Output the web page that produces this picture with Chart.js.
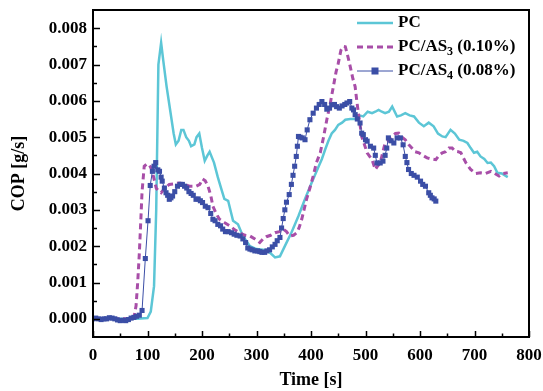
<!DOCTYPE html>
<html>
<head>
<meta charset="utf-8">
<script src="https://cdn.jsdelivr.net/npm/chart.js@4.4.1/dist/chart.umd.min.js"></script>
<style>
  html, body { margin: 0; padding: 0; background: #fff; }
  #wrap { width: 543px; height: 391px; position: relative; }
</style>
</head>
<body>
<div id="wrap"><canvas id="c" width="543" height="391"></canvas></div>
<script>
// ---------- data ----------
const xTickValues = [0, 100, 200, 300, 400, 500, 600, 700, 800];
const yTickValues = [0, 0.001, 0.002, 0.003, 0.004, 0.005, 0.006, 0.007, 0.008];

const seriesNames = ['PC', 'PC/AS', 'PC/AS'];
const seriesSubs = ['', '3', '4'];
const seriesSuffix = ['', ' (0.10%)', ' (0.08%)'];

const pcTime = [0, 20, 40, 60, 80, 100, 106, 112, 116, 120, 125, 129, 135, 142, 148, 152, 157, 162, 166, 171, 176, 180, 186, 190, 195, 200, 205, 210, 214, 222, 229, 235, 241, 248, 257, 266, 275, 288, 300, 312, 324, 334, 343, 352, 364, 377, 389, 401, 413, 420, 426, 432, 438, 444, 450, 457, 463, 472, 481, 488, 496, 504, 512, 518, 524, 530, 536, 543, 549, 558, 565, 573, 581, 589, 598, 607, 616, 625, 633, 641, 647, 656, 664, 672, 680, 687, 693, 699, 705, 711, 718, 724, 730, 736, 742, 750, 761];
const pcCOP = [0, 0, 0, 0, 0, 0.00002, 0.0002, 0.0009, 0.003, 0.007, 0.0076, 0.0071, 0.0064, 0.0057, 0.0051, 0.0048, 0.0049, 0.0052, 0.0052, 0.005, 0.0049, 0.00475, 0.0048, 0.005, 0.0051, 0.0047, 0.00435, 0.0045, 0.0046, 0.0043, 0.0039, 0.0036, 0.0033, 0.00325, 0.0027, 0.0026, 0.00228, 0.002, 0.00192, 0.0019, 0.00183, 0.00169, 0.00172, 0.002, 0.00237, 0.00283, 0.0033, 0.00374, 0.00416, 0.0044, 0.00466, 0.0049, 0.0051, 0.0052, 0.00534, 0.0054, 0.00548, 0.0055, 0.0055, 0.0056, 0.00557, 0.0057, 0.00566, 0.0057, 0.00575, 0.0057, 0.00566, 0.0057, 0.00584, 0.00557, 0.0056, 0.00566, 0.0056, 0.00557, 0.0054, 0.0053, 0.0054, 0.0053, 0.0051, 0.00502, 0.005, 0.0052, 0.0051, 0.00493, 0.0049, 0.00484, 0.0047, 0.00457, 0.0046, 0.00447, 0.0044, 0.00429, 0.0043, 0.0042, 0.00402, 0.004, 0.0039];

const as3Time = [0, 20, 40, 60, 75, 79, 82, 85, 88, 90, 94, 98, 103, 108, 112, 116, 120, 125, 132, 140, 150, 159, 168, 177, 189, 196, 201, 206, 211, 216, 220, 226, 232, 241, 251, 260, 269, 279, 288, 297, 306, 312, 318, 326, 334, 342, 349, 355, 361, 368, 374, 378, 383, 392, 398, 404, 410, 417, 423, 429, 435, 441, 446, 450, 455, 459, 463, 468, 472, 477, 481, 484, 487, 493, 498, 503, 512, 518, 522, 527, 532, 536, 542, 549, 555, 561, 567, 573, 579, 585, 591, 598, 605, 613, 621, 629, 635, 641, 647, 653, 659, 665, 670, 675, 684, 693, 702, 711, 720, 730, 737, 745, 752, 761];
const as3COP = [0, 0, 0, 0, 0.00002, 0.00036, 0.001, 0.0018, 0.0028, 0.0035, 0.0042, 0.00425, 0.00425, 0.0041, 0.00385, 0.0036, 0.00352, 0.00347, 0.0036, 0.0037, 0.00372, 0.00374, 0.0037, 0.00365, 0.00365, 0.0037, 0.00385, 0.0038, 0.00365, 0.0034, 0.0031, 0.0029, 0.00274, 0.00265, 0.00256, 0.00245, 0.00237, 0.0023, 0.00228, 0.0022, 0.0021, 0.0022, 0.00226, 0.0023, 0.00237, 0.0024, 0.00247, 0.0024, 0.00228, 0.0023, 0.00237, 0.0025, 0.00274, 0.0033, 0.0036, 0.00393, 0.0043, 0.00457, 0.005, 0.00548, 0.0059, 0.00639, 0.0068, 0.00703, 0.0074, 0.0075, 0.00749, 0.0072, 0.00694, 0.0066, 0.00639, 0.006, 0.00566, 0.00502, 0.0048, 0.00457, 0.00438, 0.00411, 0.0042, 0.00429, 0.0046, 0.00484, 0.0049, 0.00502, 0.0051, 0.00511, 0.005, 0.00493, 0.0048, 0.0047, 0.0046, 0.00457, 0.0045, 0.00443, 0.0044, 0.00438, 0.0045, 0.00457, 0.0046, 0.0047, 0.0047, 0.00461, 0.0046, 0.00457, 0.0043, 0.00411, 0.004, 0.00402, 0.004, 0.00406, 0.004, 0.00393, 0.004, 0.00402];

const as4Time = [0, 5, 10, 15, 20, 25, 30, 35, 40, 45, 50, 55, 60, 65, 70, 75, 80, 85, 90, 96, 101, 105, 109, 112, 115, 119, 122, 125, 127, 131, 134, 137, 140, 143, 146, 150, 155, 160, 164, 168, 172, 176, 180, 184, 189, 193, 197, 201, 206, 211, 216, 220, 224, 229, 234, 238, 243, 248, 254, 259, 264, 270, 275, 280, 284, 288, 292, 297, 302, 306, 310, 315, 319, 324, 329, 334, 338, 343, 346, 349, 352, 355, 360, 364, 367, 370, 373, 375, 377, 380, 384, 389, 393, 398, 404, 410, 415, 420, 425, 429, 434, 438, 443, 447, 452, 457, 462, 466, 471, 475, 478, 481, 485, 490, 493, 496, 500, 503, 509, 515, 518, 521, 527, 532, 536, 539, 542, 547, 552, 558, 564, 569, 573, 576, 579, 584, 589, 595, 601, 605, 610, 616, 619, 622, 626, 629];
const as4COP = [0, 0.00002, 0, -0.00002, 0, 0, 0.00003, 0.00002, 0, -0.00003, -0.00005, -0.00004, -0.00005, -0.00002, 0.00002, 0.00004, 0.00007, 0.0001, 0.00023, 0.00166, 0.0027, 0.00367, 0.00406, 0.0042, 0.0043, 0.0041, 0.00406, 0.0039, 0.00379, 0.0036, 0.00347, 0.0034, 0.00329, 0.00333, 0.00338, 0.0035, 0.00365, 0.0037, 0.0037, 0.00365, 0.0036, 0.0035, 0.00345, 0.0034, 0.00329, 0.0033, 0.00325, 0.0032, 0.0031, 0.00306, 0.0029, 0.00274, 0.0027, 0.0026, 0.00256, 0.00247, 0.0024, 0.0024, 0.00237, 0.00233, 0.0023, 0.00228, 0.0022, 0.0021, 0.00195, 0.00192, 0.0019, 0.00187, 0.00187, 0.00185, 0.00183, 0.00183, 0.00187, 0.0019, 0.00198, 0.00205, 0.00215, 0.00224, 0.0025, 0.00276, 0.003, 0.00321, 0.00342, 0.0037, 0.00395, 0.0042, 0.00447, 0.00475, 0.00502, 0.005, 0.00498, 0.00493, 0.0052, 0.00548, 0.00566, 0.0058, 0.0059, 0.00598, 0.0059, 0.00577, 0.0058, 0.00589, 0.0059, 0.00584, 0.0058, 0.00586, 0.0059, 0.00594, 0.00598, 0.0058, 0.00575, 0.00562, 0.0055, 0.00539, 0.00511, 0.00507, 0.00493, 0.00489, 0.00475, 0.0047, 0.0045, 0.00429, 0.00429, 0.00434, 0.0045, 0.0047, 0.00498, 0.0049, 0.00484, 0.00498, 0.00498, 0.00479, 0.00447, 0.0043, 0.00411, 0.004, 0.00395, 0.0039, 0.00379, 0.0037, 0.00365, 0.00347, 0.0034, 0.00333, 0.0033, 0.00324];

// ---------- styling ----------
const FONT = "'Liberation Serif', 'Times New Roman', serif";
const COL_PC = '#5cc6d6';
const COL_AS3 = '#a84ea8';
const COL_AS4 = '#3b4ea6';

function pts(xs, ys) { return xs.map((x, i) => ({ x: x, y: ys[i] })); }

const frameTicks = {
  id: 'frameTicks',
  afterDatasetsDraw(chart) {
    const { ctx, chartArea: a, scales } = chart;
    const xs = scales.x, ys = scales.y;
    ctx.save();
    ctx.strokeStyle = '#000';
    ctx.lineWidth = 1.5;
    for (let v = 0; v <= 800; v += 50) {
      const px = Math.round(xs.getPixelForValue(v)) + 0.5;
      const len = (v % 100 === 0) ? 6 : 3.5;
      ctx.beginPath(); ctx.moveTo(px, a.bottom); ctx.lineTo(px, a.bottom - len); ctx.stroke();
    }
    for (let k = 0; k <= 16; k++) {
      const v = k * 0.0005;
      const py = Math.round(ys.getPixelForValue(v)) + 0.5;
      const len = (k % 2 === 0) ? 7 : 4;
      ctx.beginPath(); ctx.moveTo(a.left, py); ctx.lineTo(a.left + len, py); ctx.stroke();
    }
    ctx.lineWidth = 2;
    ctx.strokeRect(a.left, a.top, a.right - a.left, a.bottom - a.top);
    ctx.restore();
  }
};

const legendBox = {
  id: 'legendBox',
  afterDraw(chart) {
    const { ctx, chartArea: a } = chart;
    const x0 = a.right - 172, x1 = a.right - 136, tx = a.right - 131;
    const rows = [a.top + 13, a.top + 37, a.top + 61];
    const ds = chart.data.datasets;
    ctx.save();
    ctx.textBaseline = 'middle';
    for (let i = 0; i < 3; i++) {
      const y = rows[i];
      const d = ds[i];
      ctx.strokeStyle = d.borderColor;
      ctx.lineWidth = d.borderWidth;
      ctx.setLineDash(d.borderDash || []);
      ctx.beginPath(); ctx.moveTo(x0, y); ctx.lineTo(x1, y); ctx.stroke();
      ctx.setLineDash([]);
      if (d.pointRadius > 0) {
        ctx.fillStyle = d.pointBackgroundColor;
        const s = 7;
        ctx.fillRect((x0 + x1) / 2 - s / 2, y - s / 2, s, s);
      }
      ctx.fillStyle = '#000';
      let x = tx;
      ctx.font = 'bold 17px ' + FONT;
      ctx.fillText(seriesNames[i], x, y);
      x += ctx.measureText(seriesNames[i]).width;
      if (seriesSubs[i]) {
        ctx.font = 'bold 12px ' + FONT;
        ctx.fillText(seriesSubs[i], x, y + 5);
        x += ctx.measureText(seriesSubs[i]).width;
        ctx.font = 'bold 17px ' + FONT;
      }
      ctx.fillText(seriesSuffix[i], x, y);
    }
    ctx.restore();
  }
};

new Chart(document.getElementById('c'), {
  type: 'scatter',
  data: {
    datasets: [
      {
        label: 'PC', data: pts(pcTime, pcCOP), showLine: true,
        borderColor: COL_PC, backgroundColor: COL_PC, borderWidth: 2.5,
        pointRadius: 0, tension: 0, order: 2
      },
      {
        label: 'PC/AS3 (0.10%)', data: pts(as3Time, as3COP), showLine: true,
        borderColor: COL_AS3, backgroundColor: COL_AS3, borderWidth: 3, borderDash: [6, 4],
        pointRadius: 0, tension: 0, order: 1
      },
      {
        label: 'PC/AS4 (0.08%)', data: pts(as4Time, as4COP), showLine: true,
        borderColor: COL_AS4, backgroundColor: COL_AS4, borderWidth: 1,
        pointStyle: 'rect', pointRadius: 3.6, pointBackgroundColor: COL_AS4,
        pointBorderColor: COL_AS4, pointBorderWidth: 0, tension: 0, order: 0
      }
    ]
  },
  options: {
    responsive: false,
    animation: false,
    devicePixelRatio: 1,
    layout: { padding: { top: 10, right: 14, left: 9, bottom: 0 } },
    plugins: { legend: { display: false }, tooltip: { enabled: false } },
    scales: {
      x: {
        type: 'linear', min: 0, max: 800,
        afterFit(s) { s.height = 54; s.paddingLeft = 0; s.paddingRight = 0; },
        afterBuildTicks(s) { s.ticks = xTickValues.map(v => ({ value: v })); },
        grid: { display: false, drawTicks: false, tickLength: 0 },
        border: { display: false },
        ticks: { color: '#000', padding: 8, maxRotation: 0, autoSkip: false,
                 font: { family: FONT, size: 17, weight: 'bold' },
                 callback: v => String(v) },
        title: { display: true, text: 'Time [s]', color: '#000', padding: 0,
                 font: { family: FONT, size: 18, weight: 'bold' } }
      },
      y: {
        type: 'linear', min: -0.0005, max: 0.0085,
        afterFit(s) { s.width = 84; s.paddingTop = 0; s.paddingBottom = 0; },
        afterBuildTicks(s) { s.ticks = yTickValues.map(v => ({ value: v })); },
        grid: { display: false, drawTicks: false, tickLength: 0 },
        border: { display: false },
        ticks: { color: '#000', padding: 6, autoSkip: false,
                 font: { family: FONT, size: 17, weight: 'bold' },
                 callback: v => Number(v).toFixed(3) },
        title: { display: true, text: 'COP [g/s]', color: '#000', padding: 0,
                 font: { family: FONT, size: 18, weight: 'bold' } }
      }
    }
  },
  plugins: [frameTicks, legendBox]
});
</script>
</body>
</html>
